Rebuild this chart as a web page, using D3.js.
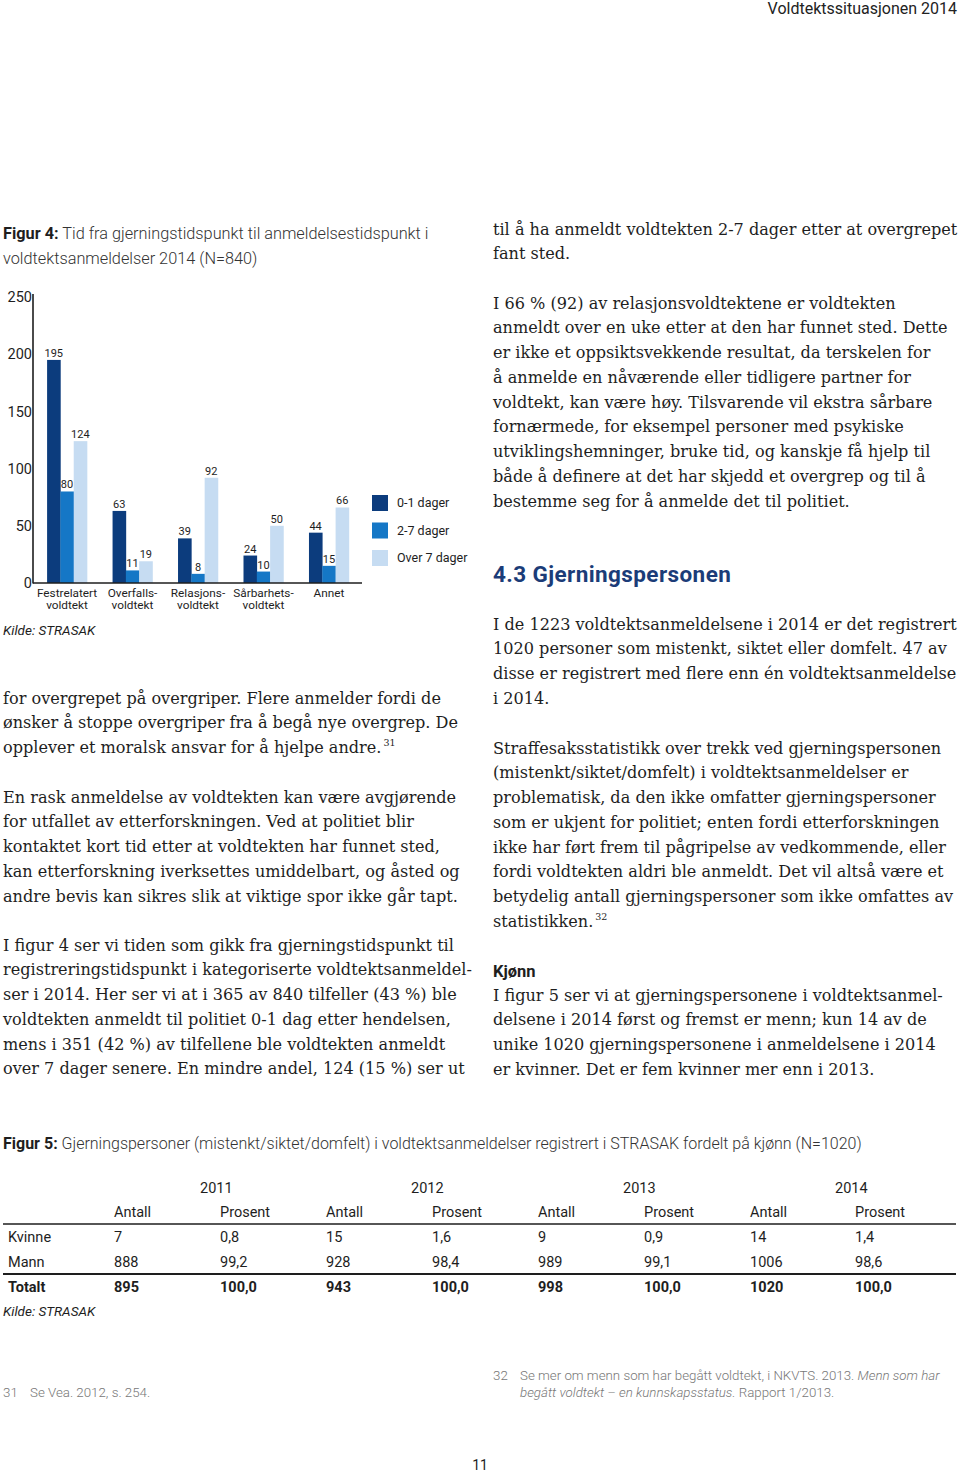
<!DOCTYPE html>
<html><head><meta charset="utf-8">
<script src="https://cdn.jsdelivr.net/npm/d3@7"></script>
<style>
html,body{margin:0;padding:0;background:#fff;}
svg{display:block;}
.sans{font-family:Roboto,"Liberation Sans",sans-serif;}
.serif{font-family:"DejaVu Serif","Liberation Serif",serif;}
</style></head>
<body>
<svg id="page" width="960" height="1473"></svg>
<script>
// ---------- DATA ----------
const categories = [["Festrelatert","voldtekt"],["Overfalls-","voldtekt"],["Relasjons-","voldtekt"],["Sårbarhets-","voldtekt"],["Annet"]];
const series = ["0-1 dager","2-7 dager","Over 7 dager"];
const days01 = [195, 63, 39, 24, 44];
const days27 = [80, 11, 8, 10, 15];
const daysOver7 = [124, 19, 92, 50, 66];
const yTicks = [0, 50, 100, 150, 200, 250];
const colors = ["#0c3c7d", "#1577c6", "#c6dcf2"];

const tableYears = ["2011","2012","2013","2014"];
const tableSub = ["Antall","Prosent"];
const rowLabels = ["Kvinne","Mann","Totalt"];
const kvinne = ["7","0,8","15","1,6","9","0,9","14","1,4"];
const mann = ["888","99,2","928","98,4","989","99,1","1006","98,6"];
const totalt = ["895","100,0","943","100,0","998","100,0","1020","100,0"];

const leftText = [
 ["for overgrepet på overgriper.  Flere anmelder fordi de","ønsker å stoppe overgriper fra å begå nye overgrep. De","opplever et moralsk ansvar for å hjelpe andre.|31"],
 ["En rask anmeldelse av voldtekten kan være avgjørende","for utfallet av etterforskningen. Ved at politiet blir","kontaktet kort tid etter at voldtekten har funnet sted,","kan etterforskning iverksettes umiddelbart, og åsted og","andre bevis kan sikres slik at viktige spor ikke går tapt."],
 ["I figur 4 ser vi tiden som gikk fra gjerningstidspunkt til","registreringstidspunkt i kategoriserte voldtektsanmeldel-","ser i 2014. Her ser vi at i 365 av 840 tilfeller (43 %) ble","voldtekten anmeldt til politiet 0-1 dag etter hendelsen,","mens i 351 (42 %) av tilfellene ble voldtekten anmeldt","over 7 dager senere. En mindre andel, 124 (15 %) ser ut"]
];
const leftStarts = [698, 797, 945];
const rightText = [
 ["til å ha anmeldt voldtekten 2-7 dager etter at overgrepet","fant sted."],
 ["I 66 % (92) av relasjonsvoldtektene er voldtekten","anmeldt over en uke etter at den har funnet sted. Dette","er ikke et oppsiktsvekkende resultat, da terskelen for","å anmelde en nåværende eller tidligere partner for","voldtekt, kan være høy. Tilsvarende vil ekstra sårbare","fornærmede, for eksempel personer med psykiske","utviklingshemninger, bruke tid, og kanskje få hjelp til","både å definere at det har skjedd et overgrep og til å","bestemme seg for å anmelde det til politiet."],
 ["I de 1223 voldtektsanmeldelsene i 2014 er det registrert","1020 personer som mistenkt, siktet eller domfelt. 47 av","disse er registrert med flere enn én voldtektsanmeldelse","i 2014."],
 ["Straffesaksstatistikk over trekk ved gjerningspersonen","(mistenkt/siktet/domfelt) i voldtektsanmeldelser er","problematisk, da den ikke omfatter gjerningspersoner","som er ukjent for politiet; enten fordi etterforskningen","ikke har ført frem til pågripelse av vedkommende, eller","fordi voldtekten aldri ble anmeldt. Det vil altså være et","betydelig antall gjerningspersoner som ikke omfattes av","statistikken.|32"],
 ["I figur 5 ser vi at gjerningspersonene i voldtektsanmel-","delsene i 2014 først og fremst er menn; kun 14 av de","unike 1020 gjerningspersonene i anmeldelsene i 2014","er kvinner. Det er fem kvinner mer enn i 2013."]
];
const rightStarts = [229, 303, 624, 748, 995];

// ---------- PAGE ----------
const svg = d3.select("#page");
const LH = 24.75;

svg.append("text").attr("class","sans").attr("x",957).attr("y",14).attr("text-anchor","end")
  .attr("font-size",16).attr("fill","#222").text("Voldtektssituasjonen 2014");

function bodyBlock(lines, x, y0){
  lines.forEach((ln,i)=>{
    const t = svg.append("text").attr("class","serif").attr("x",x).attr("y",y0+i*LH+5.5)
      .attr("font-size",16.1).attr("fill","#1e1e1e");
    const parts = ln.split("|");
    t.append("tspan").text(parts[0]);
    if(parts[1]) t.append("tspan").attr("font-size",9.5).attr("dy",-7).attr("dx",2).text(parts[1]);
  });
}
leftText.forEach((b,i)=>bodyBlock(b,3,leftStarts[i]));
rightText.forEach((b,i)=>bodyBlock(b,493,rightStarts[i]));

svg.append("text").attr("class","sans").attr("x",493).attr("y",582).attr("font-size",22.5)
  .attr("font-weight",700).attr("letter-spacing",0.4).attr("fill","#1b3c78").text("4.3  Gjerningspersonen");
svg.append("text").attr("class","sans").attr("x",493).attr("y",977).attr("font-size",16.5)
  .attr("font-weight",700).attr("fill","#1e1e1e").text("Kjønn");

// Figure 4 caption
const cap1 = svg.append("text").attr("class","sans").attr("x",3).attr("y",239).attr("font-size",16.3).attr("fill","#333");
cap1.append("tspan").attr("font-weight",700).attr("fill","#1e1e1e").text("Figur 4:");
cap1.append("tspan").attr("font-weight",300).text(" Tid fra gjerningstidspunkt til anmeldelsestidspunkt i");
svg.append("text").attr("class","sans").attr("x",3).attr("y",264).attr("font-size",16.3).attr("font-weight",300).attr("fill","#333")
  .text("voldtektsanmeldelser 2014 (N=840)");

// ---------- CHART ----------
const chart = svg.append("g").attr("class","sans");
const y = d3.scaleLinear().domain([0,250]).range([583,297]);
const x0 = d3.scaleBand().domain(d3.range(categories.length)).range([34,362]).paddingInner(0.39).paddingOuter(0.2);
const x1 = d3.scaleBand().domain(d3.range(series.length)).range([0,x0.bandwidth()]);
const vals = [days01, days27, daysOver7];

categories.forEach((c,ci)=>{
  const g = chart.append("g").attr("transform",`translate(${x0(ci)},0)`);
  vals.forEach((s,si)=>{
    g.append("rect").attr("x",x1(si)).attr("y",y(s[ci])).attr("width",x1.bandwidth()+0.3)
      .attr("height",y(0)-y(s[ci])).attr("fill",colors[si]);
    g.append("text").attr("x",x1(si)+x1.bandwidth()/2).attr("y",y(s[ci])-3)
      .attr("text-anchor","middle").attr("font-size",11).attr("fill","#1e1e1e").text(s[ci]);
  });
  c.forEach((ln,li)=>{
    chart.append("text").attr("x",x0(ci)+x0.bandwidth()/2).attr("y",596.5+li*12)
      .attr("text-anchor","middle").attr("font-size",11.8).attr("fill","#1e1e1e").text(ln);
  });
});

const yAxis = d3.axisLeft(y).tickValues(yTicks).tickSize(0).tickPadding(1);
const ya = chart.append("g").attr("transform","translate(33,0)").call(yAxis);
ya.select(".domain").remove();
ya.selectAll("text").attr("font-size",14.5).attr("fill","#1e1e1e").attr("font-family","Roboto");
chart.append("line").attr("x1",33).attr("x2",33).attr("y1",294).attr("y2",583.5).attr("stroke","#1e1e1e").attr("stroke-width",1.6);
chart.append("line").attr("x1",33).attr("x2",362).attr("y1",583).attr("y2",583).attr("stroke","#1e1e1e").attr("stroke-width",1.6);

series.forEach((s,i)=>{
  chart.append("rect").attr("x",372).attr("y",495+i*27.5).attr("width",16).attr("height",16).attr("fill",colors[i]);
  chart.append("text").attr("x",397).attr("y",503+i*27.5).attr("dy","0.35em").attr("font-size",12.5).attr("fill","#1e1e1e").text(s);
});
svg.append("text").attr("class","sans").attr("x",3).attr("y",635).attr("font-size",13.5).attr("font-style","italic").attr("fill","#1e1e1e").text("Kilde: STRASAK");

// ---------- TABLE (Figure 5) ----------
const cap5 = svg.append("text").attr("class","sans").attr("x",3).attr("y",1149).attr("font-size",16).attr("fill","#333");
cap5.append("tspan").attr("font-weight",700).attr("fill","#1e1e1e").text("Figur 5:");
cap5.append("tspan").attr("font-weight",300).text(" Gjerningspersoner (mistenkt/siktet/domfelt) i voldtektsanmeldelser registrert i STRASAK fordelt på kjønn (N=1020)");

const colX = [114,220,326,432,538,644,750,855];
const yearX = [200,411,623,835];
const tbl = svg.append("g").attr("class","sans").attr("font-size",14.5).attr("fill","#1e1e1e");
tableYears.forEach((yr,i)=>tbl.append("text").attr("x",yearX[i]).attr("y",1193).text(yr));
colX.forEach((cx,i)=>tbl.append("text").attr("x",cx).attr("y",1217).text(tableSub[i%2]));
tbl.append("line").attr("x1",3).attr("x2",956).attr("y1",1224).attr("y2",1224).attr("stroke","#1e1e1e").attr("stroke-width",1.3);
const rows = [kvinne, mann, totalt];
const rowY = [1242, 1267, 1292];
rows.forEach((r,ri)=>{
  const w = ri===2 ? 700 : 400;
  tbl.append("text").attr("x",8).attr("y",rowY[ri]).attr("font-weight",w).text(rowLabels[ri]);
  r.forEach((v,vi)=>tbl.append("text").attr("x",colX[vi]).attr("y",rowY[ri]).attr("font-weight",w).text(v));
});
tbl.append("line").attr("x1",3).attr("x2",956).attr("y1",1274).attr("y2",1274).attr("stroke","#1e1e1e").attr("stroke-width",2.2);
svg.append("text").attr("class","sans").attr("x",3).attr("y",1316).attr("font-size",13.5).attr("font-style","italic").attr("fill","#1e1e1e").text("Kilde: STRASAK");

// ---------- FOOTNOTES ----------
const fn = svg.append("g").attr("class","sans").attr("font-size",13.3).attr("fill","#777").attr("font-weight",300);
fn.append("text").attr("x",3).attr("y",1397).text("31");
fn.append("text").attr("x",30).attr("y",1397).text("Se Vea. 2012, s. 254.");
fn.append("text").attr("x",493).attr("y",1380).text("32");
const f1 = fn.append("text").attr("x",520).attr("y",1380);
f1.append("tspan").text("Se mer om menn som har begått voldtekt, i NKVTS. 2013. ");
f1.append("tspan").attr("font-style","italic").text("Menn som har");
const f2 = fn.append("text").attr("x",520).attr("y",1397);
f2.append("tspan").attr("font-style","italic").text("begått voldtekt – en kunnskapsstatus.");
f2.append("tspan").text(" Rapport 1/2013.");

svg.append("text").attr("class","sans").attr("x",480).attr("y",1470).attr("text-anchor","middle").attr("font-size",14).attr("fill","#1e1e1e").text("11");
</script>
</body></html>
